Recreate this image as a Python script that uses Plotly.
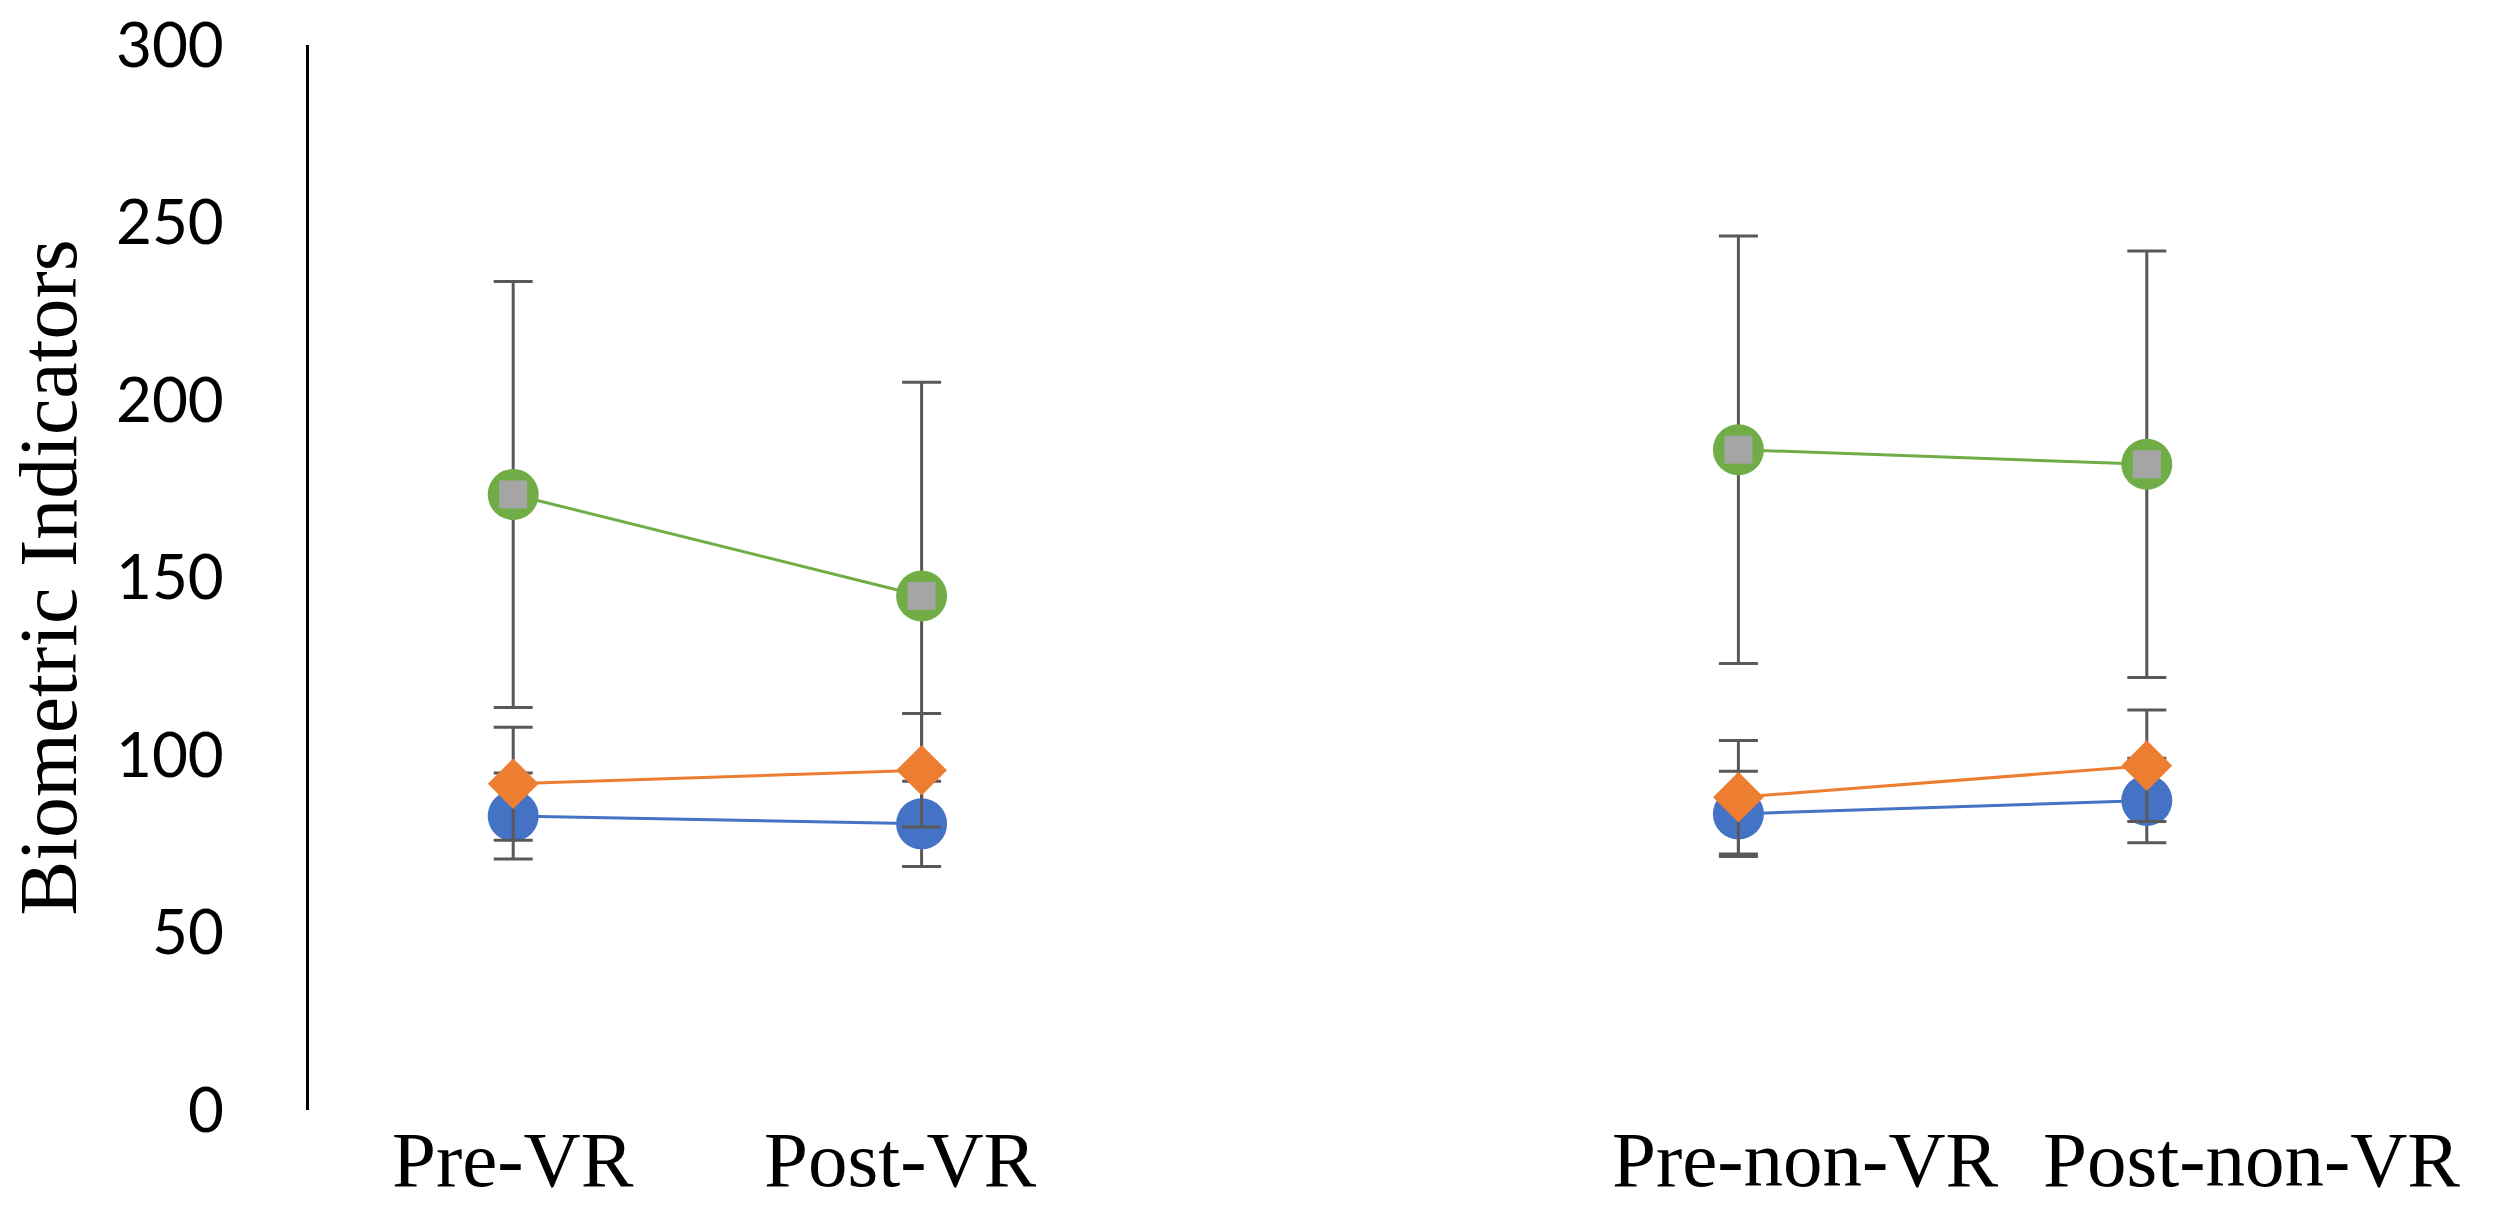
import plotly.graph_objects as go

# Categories (blank category separates the two groups)
categories = ["Pre-VR", "Post-VR", " ", "Pre-non-VR", "Post-non-VR"]
x_labels = ["Pre-VR", "Post-VR", "Pre-non-VR", "Post-non-VR"]
x_label_cats = ["Pre-VR", "Post-VR", "Pre-non-VR", "Post-non-VR"]
x_label_shift = [0, -22, 67, 105]  # horizontal label offsets in px

# Series values
blue_vals = [82.8, 80.6, None, 83.4, 87.2]
blue_err = [12.1, 12.0, None, 12.0, 11.9]

orange_vals = [91.9, 95.7, None, 88.1, 97.0]
orange_err = [15.9, 16.0, None, 16.0, 15.7]

green_vals = [173.4, 144.8, None, 186.0, 181.9]
green_err = [60.0, 60.2, None, 60.2, 60.1]

y_ticks = [0, 50, 100, 150, 200, 250, 300]

ERR_COLOR = "#595959"

fig = go.Figure()

# Green circles with line and error bars (drawn first / underneath)
fig.add_trace(go.Scatter(
    x=categories, y=green_vals, mode="lines+markers",
    line=dict(color="#70AD47", width=3),
    marker=dict(symbol="circle", size=51, color="#70AD47"),
    error_y=dict(type="data", array=green_err, visible=True,
                 color=ERR_COLOR, thickness=3, width=19.5),
    connectgaps=False, showlegend=False, hoverinfo="skip"))

# Gray squares on top of the green circles
fig.add_trace(go.Scatter(
    x=categories, y=green_vals, mode="markers",
    marker=dict(symbol="square", size=28, color="#A5A5A5"),
    showlegend=False, hoverinfo="skip"))

# Blue circles
fig.add_trace(go.Scatter(
    x=categories, y=blue_vals, mode="lines+markers",
    line=dict(color="#4472C4", width=3),
    marker=dict(symbol="circle", size=51, color="#4472C4"),
    error_y=dict(type="data", array=blue_err, visible=True,
                 color=ERR_COLOR, thickness=3, width=19.5),
    connectgaps=False, showlegend=False, hoverinfo="skip"))

# Orange diamonds
fig.add_trace(go.Scatter(
    x=categories, y=orange_vals, mode="lines+markers",
    line=dict(color="#ED7D31", width=3),
    marker=dict(symbol="diamond", size=39, color="#ED7D31"),
    error_y=dict(type="data", array=orange_err, visible=True,
                 color=ERR_COLOR, thickness=3, width=19.5),
    connectgaps=False, showlegend=False, hoverinfo="skip"))

annotations = []
for cat, lab, sh in zip(x_label_cats, x_labels, x_label_shift):
    annotations.append(dict(
        x=cat, xref="x", y=0, yref="paper", text=lab, showarrow=False,
        xanchor="center", yanchor="top", xshift=sh, yshift=-4,
        font=dict(family="Liberation Serif", size=79, color="black")))

annotations.append(dict(
    x=-0.1278, xref="paper", y=0.5, yref="paper", text="Biometric Indicators",
    showarrow=False, textangle=-90, xanchor="center", yanchor="middle",
    borderpad=0,
    font=dict(family="Liberation Serif", size=82, color="black")))

fig.update_layout(
    width=2489, height=1214,
    margin=dict(l=301, r=146, t=37, b=112, pad=0),
    paper_bgcolor="white", plot_bgcolor="white",
    showlegend=False,
    annotations=annotations,
    xaxis=dict(
        type="category", categoryorder="array", categoryarray=categories,
        range=[-0.5, 4.5], showgrid=False, zeroline=False,
        showline=False, ticks="", showticklabels=False, automargin=False,
    ),
    yaxis=dict(
        range=[0, 300], tickvals=y_ticks, ticktext=[str(v) for v in y_ticks],
        showgrid=False, zeroline=False, automargin=False,
        showline=True, linecolor="black", linewidth=2.5, ticks="",
        tickfont=dict(family="Lato", size=62, color="black"),
        ticklabelstandoff=70, ticklabeloverflow="allow",
    ),
)

fig.write_html("out.html")
